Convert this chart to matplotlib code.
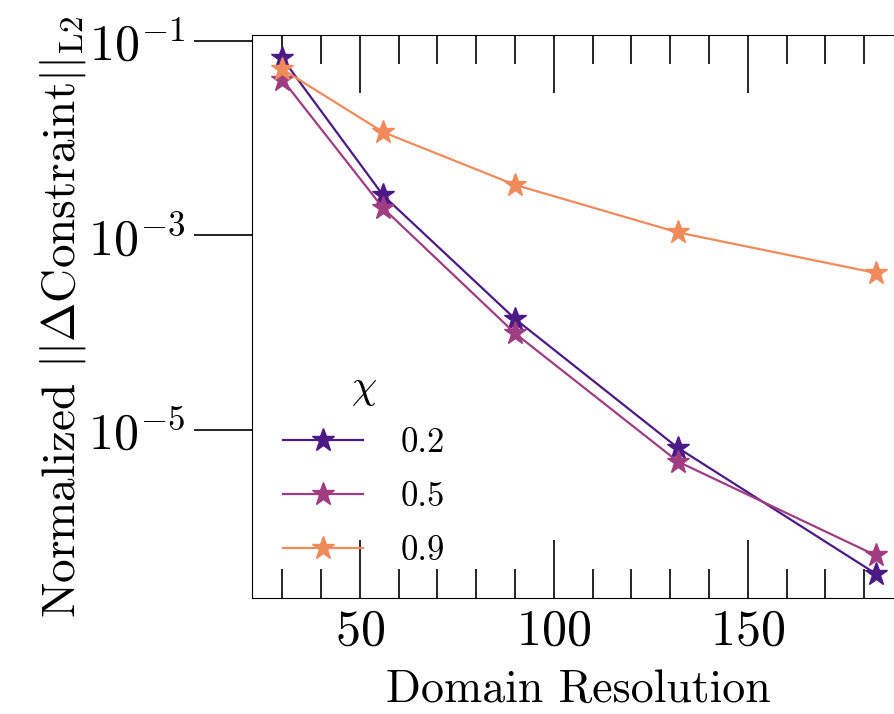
import matplotlib
matplotlib.use("Agg")
import matplotlib.pyplot as plt
import numpy as np

plt.rcParams['font.family'] = 'serif'
plt.rcParams['font.serif'] = ['cmr10']
plt.rcParams['mathtext.fontset'] = 'cm'
plt.rcParams['axes.formatter.use_mathtext'] = True

# domain resolution and normalized constraint error per chi
resolution = [30, 56, 90, 132, 183]
chi_labels = ['0.2', '0.5', '0.9']
err_02 = [6.6e-2, 2.57e-3, 1.38e-4, 6.5e-6, 3.3e-7]
err_05 = [4.0e-2, 1.9e-3, 9.8e-5, 4.7e-6, 5.1e-7]
err_09 = [5.1e-2, 1.15e-2, 3.3e-3, 1.07e-3, 4.1e-4]
colors = ['#4b1a86', '#a03c82', '#f08a5a']

fig = plt.figure(figsize=(8.94, 7.14), dpi=100)
ax = fig.add_axes([0.2815, 0.1625, 0.7308, 0.7885])

for err, lab, c in zip([err_02, err_05, err_09], chi_labels, colors):
    ax.plot(resolution, err, marker='*', markersize=17, lw=1.6, color=c, label=lab)

ax.set_yscale('log')
ax.set_ylim(10**-6.73, 10**-0.94)
ax.set_xlim(22.1, 190.5)
ax.set_yticks([1e-1, 1e-3, 1e-5])
ax.yaxis.set_minor_locator(matplotlib.ticker.NullLocator())
ax.set_xticks([50, 100, 150])
ax.set_xticks(np.arange(30, 200, 10), minor=True)

ax.tick_params(axis='x', which='both', direction='in', top=True, labelsize=36, pad=8)
ax.tick_params(axis='x', which='major', length=42, width=1.2)
ax.tick_params(axis='x', which='minor', length=21, width=1.2)
ax.tick_params(axis='y', which='major', direction='out', length=42, width=1.2, labelsize=36, pad=6)

ax.set_xlabel('Domain Resolution', fontsize=33, labelpad=10)
ax.set_ylabel(r'Normalized $||\Delta\mathrm{Constraint}||_{\mathrm{L2}}$', fontsize=34, labelpad=0)

leg = ax.legend(title=r'$\chi$', loc='lower left', frameon=False, fontsize=25,
                title_fontsize=29, handlelength=2.3, labelspacing=0.64,
                handletextpad=1.1, bbox_to_anchor=(0.0, 0.0))
leg._legend_box.sep = 14

fig.savefig('out.png', dpi=100)
